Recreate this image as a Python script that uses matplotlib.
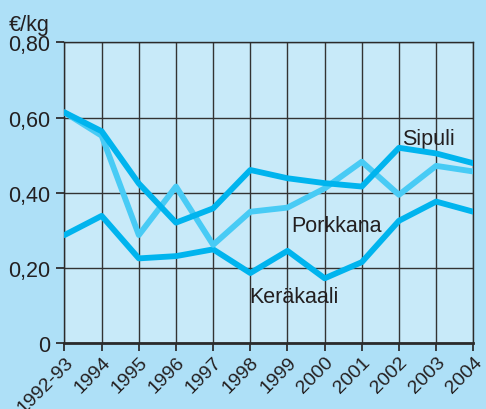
import numpy as np
from matplotlib import pyplot as plt

years = ["1992-93", "1994", "1995", "1996", "1997", "1998", "1999",
         "2000", "2001", "2002", "2003", "2004"]
sipuli = [0.614, 0.564, 0.425, 0.321, 0.359, 0.461, 0.439, 0.426, 0.417, 0.520, 0.505, 0.479]
porkkana = [0.614, 0.552, 0.288, 0.417, 0.262, 0.350, 0.361, 0.412, 0.483, 0.395, 0.472, 0.457]
kerakaali = [0.288, 0.339, 0.226, 0.232, 0.250, 0.187, 0.246, 0.173, 0.216, 0.326, 0.377, 0.350]
yticks = [0, 0.2, 0.4, 0.6, 0.8]
ylabels = ["0", "0,20", "0,40", "0,60", "0,80"]

plt.rcParams['font.family'] = ['Liberation Sans', 'DejaVu Sans']

bg = "#aee0f7"
plotbg = "#c8eaf9"
dark = "#00b4ee"
light = "#48cbf5"
txt = "#231f20"

fig = plt.figure(figsize=(4.86, 4.10), dpi=100, facecolor=bg)
ax = fig.add_axes([0.1327, 0.160, 0.9739 - 0.1327, 0.894 - 0.160])
ax.set_facecolor(plotbg)

x = np.arange(len(years))
ax.plot(x, kerakaali, color=dark, lw=4.2, solid_capstyle='round', zorder=3)
ax.plot(x, porkkana, color=light, lw=4.2, solid_capstyle='round', zorder=3)
ax.plot(x, sipuli, color=dark, lw=4.2, solid_capstyle='round', zorder=4)

ax.set_xlim(0, len(years) - 1)
ax.set_ylim(0, 0.8)
ax.set_xticks(x)
ax.set_xticklabels(years, rotation=45, ha='right', va='top', rotation_mode='anchor',
                   fontsize=14, color=txt)
ax.set_yticks(yticks)
ax.set_yticklabels(ylabels, fontsize=15.5, color=txt)
ax.tick_params(axis='both', direction='out', length=6, width=1.2, color=txt)
ax.tick_params(axis='y', pad=4)
ax.tick_params(axis='x', pad=1)
ax.grid(True, color="#333333", lw=1.0)
ax.set_axisbelow(True)
for s in ax.spines.values():
    s.set_color("#2b2b2b")
    s.set_linewidth(1.0)
ax.spines['bottom'].set_linewidth(2.0)

ax.text(9.08, 0.531, "Sipuli", fontsize=15.5, color=txt)
ax.text(6.10, 0.300, "Porkkana", fontsize=15.5, color=txt)
ax.text(4.98, 0.109, "Keräkaali", fontsize=15.5, color=txt)

fig.text(9 / 486, 1 - 31 / 410, "€/kg", fontsize=15.5, color=txt, va='baseline')

plt.savefig("out.png", dpi=100, facecolor=bg)
